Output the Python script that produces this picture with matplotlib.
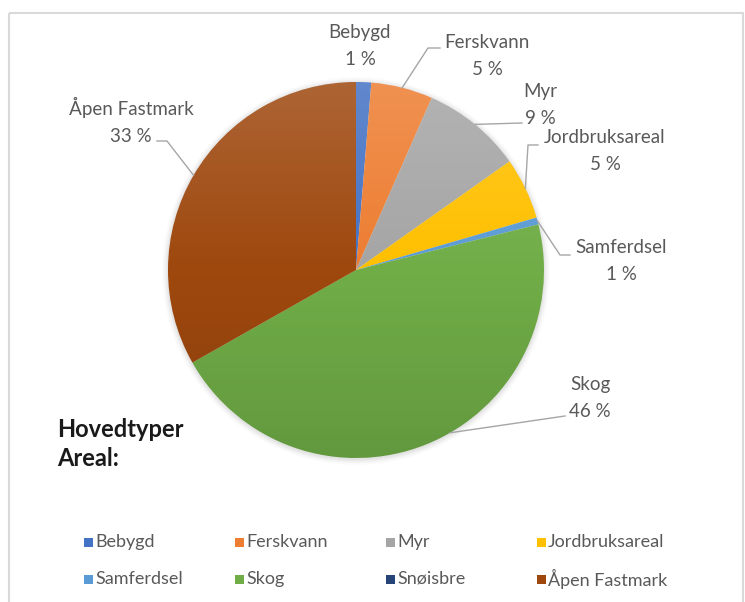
import numpy as np
import matplotlib.pyplot as plt
from matplotlib.patches import Circle, Rectangle

# land cover shares (percent), clockwise from 12 o'clock
categories = ["Bebygd", "Ferskvann", "Myr", "Jordbruksareal",
              "Samferdsel", "Skog", "Snøisbre", "Åpen Fastmark"]
shares = [1.3, 5.3, 8.6, 5.3, 0.6, 45.7, 0.0, 33.2]
colors = ["#4472C4", "#ED7D31", "#A5A5A5", "#FFC000",
          "#5B9BD5", "#70AD47", "#264478", "#9E480E"]

plt.rcParams["font.family"] = ["Lato", "DejaVu Sans"]

W, H = 745, 602
fig = plt.figure(figsize=(W / 100, H / 100), dpi=100)
ax = fig.add_axes([0, 0, 1, 1])

# pie geometry in pixel units (y axis points down)
cx, cy, r = 356, 270, 188

# soft halo behind the pie
for k, a in zip(range(6, 0, -1), [0.015, 0.02, 0.03, 0.04, 0.05, 0.06]):
    ax.add_patch(Circle((cx, cy + 1), r + k, color="#7f7f7f", alpha=a, lw=0))

wedges, _ = ax.pie(shares, colors=colors, center=(cx, cy), radius=r,
                   startangle=-90, counterclock=True,
                   wedgeprops=dict(linewidth=0))

# light-to-dark shading like the Office style
grad = np.zeros((256, 1, 4))
t = np.linspace(0, 1, 256)
grad[:, 0, :3] = np.where(t[:, None] < 0.5, 1.0, 0.0)
grad[:, 0, 3] = np.where(t < 0.5, 0.16 * (0.5 - t) * 2, 0.12 * (t - 0.5) * 2)
clip = Circle((cx, cy), r, transform=ax.transData)
im = ax.imshow(grad, extent=(cx - r, cx + r, cy + r, cy - r), origin="upper",
               aspect="auto", zorder=3)
im.set_clip_path(clip)

ax.set_xlim(0, W)
ax.set_ylim(H, 0)
ax.set_aspect("auto")
ax.axis("off")

# frame of the chart area
ax.add_patch(Rectangle((9, 13), 734, 620, fill=False, ec="#D9D9D9", lw=1.5,
                       clip_on=False))

# data labels: centre of two-line label, leader elbow, anchor fraction in slice
label_pos = {
    "Bebygd": (360, 46, None, 0.5),
    "Ferskvann": (487, 56, [(428, 48), (440, 48)], 0.5),
    "Myr": (540, 105, [(522, 123)], 0.5),
    "Jordbruksareal": (605, 151, [(528, 145), (538, 145)], 0.5),
    "Samferdsel": (621, 261, [(560, 255), (570, 255)], 0.5),
    "Skog": (590, 398, [(565, 416)], 0.45),
    "Åpen Fastmark": (131, 121, [(167, 141), (157, 141)], 0.5),
}

cum = np.concatenate([[0], np.cumsum(shares)]) / sum(shares)
lab_col = "#595959"
for i, name in enumerate(categories):
    if name not in label_pos:
        continue
    lx, ly, leader, fr = label_pos[name]
    ax.text(lx, ly, f"{name}\n{shares[i]:.0f} %", ha="center", va="center",
            fontsize=13.5, color=lab_col, linespacing=1.7, zorder=5)
    if leader:
        phi = 2 * np.pi * (cum[i] + fr * (cum[i + 1] - cum[i]))
        px, py = cx + r * np.sin(phi), cy - r * np.cos(phi)
        xs = [px] + [p[0] for p in leader]
        ys = [py] + [p[1] for p in leader]
        ax.plot(xs, ys, color="#A6A6A6", lw=1, zorder=4)

ax.text(57, 444, "Hovedtyper\nAreal:", ha="left", va="center",
        fontsize=17, fontweight="bold", color="#1a1a1a", linespacing=1.3)

# legend in row-major order, four columns
for i, (name, c) in enumerate(zip(categories, colors)):
    row, col = divmod(i, 4)
    x0 = 88 + col * 151
    y0 = 542 + row * 37
    ax.add_patch(Rectangle((x0 - 4.5, y0 - 4.5), 9, 9, color=c, lw=0))
    ax.text(x0 + 7, y0, name, ha="left", va="center", fontsize=13,
            color=lab_col)

fig.savefig("out.png", dpi=100)
